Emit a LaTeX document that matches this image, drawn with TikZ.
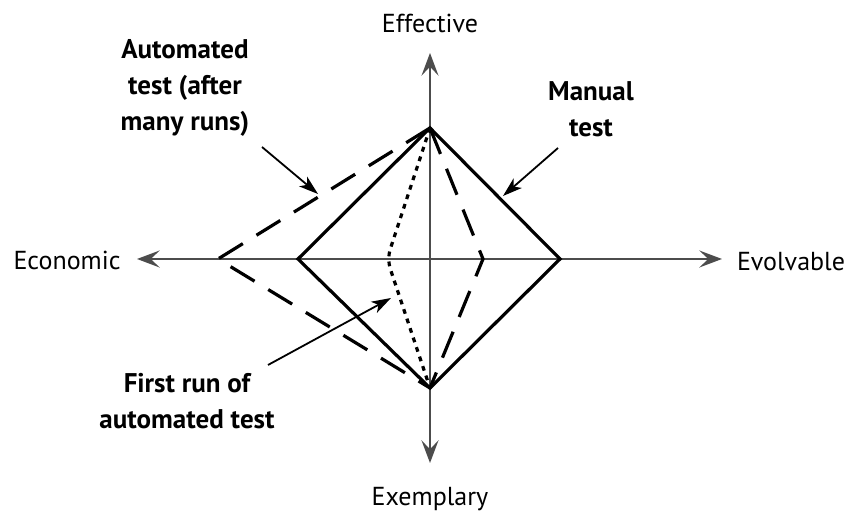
\documentclass[tikz,border=0pt]{standalone}
\usepackage{fontspec}
\setmainfont{PT Sans}
\usetikzlibrary{arrows.meta,positioning}
\tikzset{
  axislbl/.style={font=\fontsize{13}{15}\selectfont, inner sep=0pt, anchor=base},
  notelbl/.style={font=\bfseries\fontsize{13.5}{18}\selectfont, align=center, inner sep=0pt},
  axisarr/.style={-{Stealth[length=4mm,width=3mm,inset=1.6mm]}, line width=1pt, black!70},
  manual/.style={line width=1.6pt, line join=miter},
  autorun/.style={line width=1.6pt, dash pattern=on 14pt off 8pt},
  firstrun/.style={line width=1.6pt, dash pattern=on 2.4pt off 2.6pt, rounded corners=5pt},
  callout/.style={-{Stealth[length=3.4mm,width=2.2mm,inset=0.9mm]}, line width=0.9pt},
}
\begin{document}
\begin{tikzpicture}[x=0.5pt,y=-0.5pt]
  \useasboundingbox (0,0) rectangle (848,512);
  % axes
  \coordinate (o) at (430,259);
  \coordinate (ytop) at (430,53);
  \coordinate (ybot) at (430,463);
  \coordinate (xleft) at (137,259);
  \coordinate (xright) at (722,259);
  \node[axislbl] (eff) at (430,33) {Effective};
  \node[axislbl] (exm) at (430,506) {Exemplary};
  \node[axislbl] (eco) at (67,270) {Economic};
  \node[axislbl] (evo) at (791,271) {Evolvable};
  \draw[axisarr] (o) -- (ytop);
  \draw[axisarr] (o) -- (ybot);
  \draw[axisarr] (o) -- (xleft);
  \draw[axisarr] (o) -- (xright);
  % vertices
  \coordinate (top) at (430,128);
  \coordinate (bot) at (430,388);
  \coordinate (manl) at (298,259);
  \coordinate (manr) at (560,259);
  \coordinate (autl) at (218,259);
  \coordinate (autr) at (483,259);
  \coordinate (firstl) at (387,259);
  % profiles
  \draw[manual] (top) -- (manr) -- (bot) -- (manl) -- cycle;
  \draw[autorun] (top) -- (autl) -- (bot);
  \draw[autorun] (top) -- (autr) -- (bot);
  \draw[firstrun] (top) -- (firstl) -- (bot);
  % labels
  \node[notelbl] (autolbl) at (185,88) {Automated\\test (after\\many runs)};
  \node[notelbl] (manlbl) at (591,109) {Manual\\test};
  \node[notelbl] (firstlbl) at (187,401) {First run of\\automated test};
  \coordinate (autotail) at (262,147);
  \coordinate (autotip) at (318,194);
  \coordinate (mantail) at (558,148);
  \coordinate (mantip) at (503,196);
  \coordinate (firsttail) at (268,365);
  \coordinate (firsttip) at (391,298);
  \draw[callout] (autotail) -- (autotip);
  \draw[callout] (mantail) -- (mantip);
  \draw[callout] (firsttail) -- (firsttip);
\end{tikzpicture}
\end{document}
